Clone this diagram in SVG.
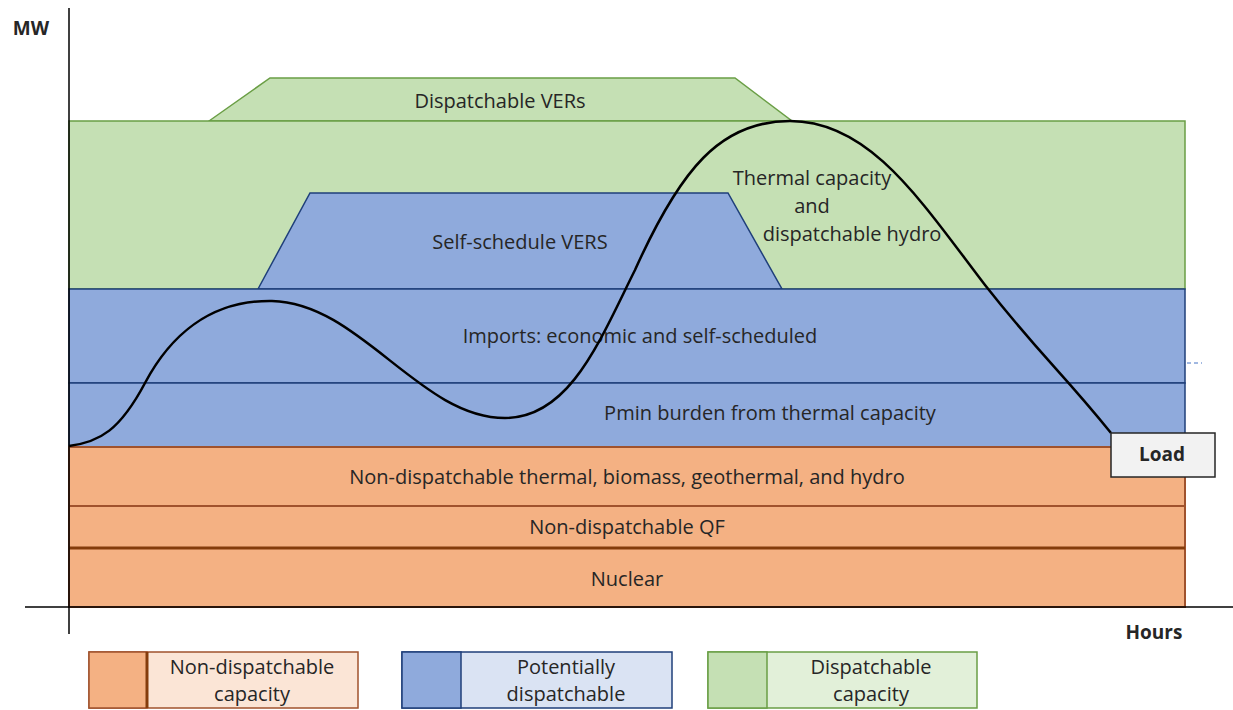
<svg xmlns="http://www.w3.org/2000/svg" width="1233" height="710" viewBox="0 0 1233 710">
<style>
text{font-family:"Open Sans","Noto Sans",sans-serif;font-size:20px;fill:#262626;text-anchor:middle;dominant-baseline:central}
.or{fill:#F4B183;stroke:#A0522D;stroke-width:2}
.bl{fill:#8FAADC;stroke:#1F3F7A;stroke-width:1.5}
.gr{fill:#C5E0B4;stroke:#6A9E45;stroke-width:1.5}
.b{font-weight:bold;font-size:19px}
</style>
<rect width="1233" height="710" fill="#fff"/>
<g id="dispatchable-vers">
<polygon class="gr" points="209,121 270,78 735,78 792,121"/>
<text x="500" y="100">Dispatchable VERs</text>
</g>
<g id="thermal-capacity">
<rect class="gr" x="69" y="121" width="1116" height="168"/>
<text x="812" y="177">Thermal capacity</text>
<text x="812" y="205">and</text>
<text x="852" y="233">dispatchable hydro</text>
</g>
<g id="self-schedule">
<polygon class="bl" points="258,289 310,193 728,193 782,289"/>
<text x="520" y="241">Self-schedule VERS</text>
</g>
<g id="imports">
<rect class="bl" x="69" y="289" width="1116" height="94"/>
<text x="640" y="335">Imports: economic and self-scheduled</text>
</g>
<g id="pmin">
<rect class="bl" x="69" y="383" width="1116" height="64"/>
<text x="770" y="412">Pmin burden from thermal capacity</text>
</g>
<g id="nondisp-thermal">
<rect class="or" x="69" y="447" width="1116" height="59"/>
<text x="627" y="476">Non-dispatchable thermal, biomass, geothermal, and hydro</text>
</g>
<g id="qf">
<rect class="or" x="69" y="506" width="1116" height="42"/>
<text x="627" y="526">Non-dispatchable QF</text>
</g>
<g id="nuclear">
<rect class="or" x="69" y="548" width="1116" height="59"/>
<line x1="69" y1="548" x2="1185" y2="548" stroke="#843C0C" stroke-width="3"/>
<text x="627" y="578">Nuclear</text>
</g>
<g id="connectors" fill="none">
<line x1="69" y1="8" x2="69" y2="634" stroke="#000" stroke-width="1.5"/>
<line x1="25" y1="607" x2="1240" y2="607" stroke="#000" stroke-width="1.5"/>
<line x1="1187" y1="363" x2="1202" y2="363" stroke="#4472C4" stroke-width="1" stroke-dasharray="4,3"/>
<path d="M69,446 C100,442 120,430 145,383 C170,336 210,300 272,301 C360,303 420,418 505,418 C570,418 600,340 635,270 C680,170 720,121 790,121 C870,121 920,200 985,285 C1040,355 1060,370 1111,433" stroke="#000" stroke-width="2.5"/>
</g>
<g id="load">
<rect x="1111" y="433" width="104" height="44" fill="#F2F2F2" stroke="#262626" stroke-width="1.5"/>
<text class="b" x="1162" y="454">Load</text>
</g>
<g id="axis-labels">
<text class="b" x="31" y="28">MW</text>
<text class="b" x="1154" y="632">Hours</text>
</g>
<g id="legend-nondisp">
<rect x="89" y="652" width="269" height="56" fill="#FBE5D6" stroke="#A0522D" stroke-width="1.5"/>
<rect x="89" y="652" width="58" height="56" fill="#F4B183" stroke="#A0522D" stroke-width="1.5"/>
<line x1="147" y1="652" x2="147" y2="708" stroke="#843C0C" stroke-width="3"/>
<text x="252" y="666">Non-dispatchable</text>
<text x="252" y="693">capacity</text>
</g>
<g id="legend-potential">
<rect x="402" y="652" width="270" height="56" fill="#DAE3F3" stroke="#1F3F7A" stroke-width="1.5"/>
<rect x="402" y="652" width="59" height="56" fill="#8FAADC" stroke="#1F3F7A" stroke-width="1.5"/>
<text x="566" y="666">Potentially</text>
<text x="566" y="693">dispatchable</text>
</g>
<g id="legend-disp">
<rect x="708" y="652" width="269" height="56" fill="#E2F0D9" stroke="#6A9E45" stroke-width="1.5"/>
<rect x="708" y="652" width="59" height="56" fill="#C5E0B4" stroke="#6A9E45" stroke-width="1.5"/>
<text x="871" y="666">Dispatchable</text>
<text x="871" y="693">capacity</text>
</g>
</svg>
